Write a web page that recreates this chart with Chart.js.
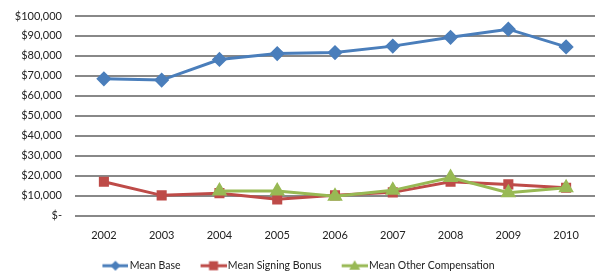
<!DOCTYPE html>
<html>
<head>
<meta charset="utf-8">
<script src="https://cdn.jsdelivr.net/npm/chart.js@4"></script>
<style>
html,body{margin:0;padding:0;background:#fff;}
#wrap{width:597px;height:271px;position:relative;}
</style>
</head>
<body>
<div id="wrap"><canvas id="c" width="597" height="271"></canvas></div>
<script>
const years = ['2002','2003','2004','2005','2006','2007','2008','2009','2010'];
const meanBase = [68500, 67900, 78200, 81200, 81700, 84900, 89300, 93400, 84500];
const meanSigningBonus = [16900, 10100, 11200, 8100, 10100, 11600, 16900, 15600, 13900];
const meanOtherComp = [null, null, 12300, 12300, 9700, 12600, 19000, 11400, 13900];
const yTicks = [0,10000,20000,30000,40000,50000,60000,70000,80000,90000,100000];

const BLUE='#4a7ebb', RED='#be4b48', GREEN='#98b954';

function legendIcon(color, style){
  const c=document.createElement('canvas');
  c.width=32;c.height=12;
  const g=c.getContext('2d');
  g.strokeStyle=color;g.lineWidth=3;
  g.beginPath();g.moveTo(6,6);g.lineTo(32,6);g.stroke();
  g.fillStyle=color;
  g.beginPath();
  const cx=19;
  if(style==='diamond'){g.moveTo(cx,1);g.lineTo(cx+5,6);g.lineTo(cx,11);g.lineTo(cx-5,6);g.closePath();}
  else if(style==='square'){g.rect(cx-4.5,1.5,9,9);}
  else {g.moveTo(cx,0.5);g.lineTo(cx+5.5,10);g.lineTo(cx-5.5,10);g.closePath();}
  g.fill();
  return c;
}

const fontFam = "Lato, 'Open Sans', 'Liberation Sans', sans-serif";

const chart = new Chart(document.getElementById('c'), {
  type:'line',
  data:{
    labels: years,
    datasets:[
      {label:'Mean Base', data:meanBase, order:3, borderColor:BLUE, backgroundColor:BLUE, borderWidth:3, pointStyle:'rectRot', pointRadius:5.5, pointHoverRadius:5.5, tension:0},
      {label:'Mean Signing Bonus', data:meanSigningBonus, order:2, borderColor:RED, backgroundColor:RED, borderWidth:3, pointStyle:'rect', pointRadius:5, pointHoverRadius:5, tension:0},
      {label:'Mean Other Compensation', data:meanOtherComp, order:1, borderColor:GREEN, backgroundColor:GREEN, borderWidth:3, pointStyle:'triangle', pointRadius:6, pointHoverRadius:6, tension:0}
    ]
  },
  options:{
    responsive:false,
    animation:false,
    devicePixelRatio:1,
    layout:{autoPadding:false, padding:{left:0,right:2,top:16,bottom:0}},
    plugins:{
      tooltip:{enabled:false},
      legend:{
        position:'bottom',
        labels:{
          usePointStyle:true,
          pointStyleWidth:24,
          font:{family:fontFam,size:10.5},
          color:'#222',
          padding:18,
          generateLabels(chart){
            const styles=['diamond','square','triangle'];
            return chart.data.datasets.map((d,i)=>({
              text:d.label, pointStyle:legendIcon(d.borderColor,styles[i]),
              fillStyle:d.borderColor, strokeStyle:d.borderColor, lineWidth:0,
              datasetIndex:i, hidden:false, fontColor:'#222'
            }));
          }
        }
      }
    },
    scales:{
      x:{
        offset:true,
        grid:{display:false, drawTicks:false},
        border:{display:false},
        ticks:{font:{family:fontFam,size:11},color:'#222',padding:13,maxRotation:0},
        afterFit(s){s.height=27; s.paddingLeft=0; s.paddingRight=0;}
      },
      y:{
        min:0,max:100000,
        afterBuildTicks(s){s.ticks=yTicks.map(v=>({value:v}));},
        grid:{color:'#888888',lineWidth:2,drawTicks:false},
        border:{display:false},
        ticks:{
          font:{family:fontFam,size:11},color:'#222',padding:13,
          callback(v){return v===0?'$-':'$'+v.toLocaleString('en-US');}
        },
        afterFit(s){s.width=75; s.paddingTop=0; s.paddingBottom=0;}
      }
    }
  }
});
const origFit = chart.legend.fit;
chart.legend.fit = function(){ origFit.call(this); this.height -= 10; };
chart.update();
</script>
</body>
</html>
